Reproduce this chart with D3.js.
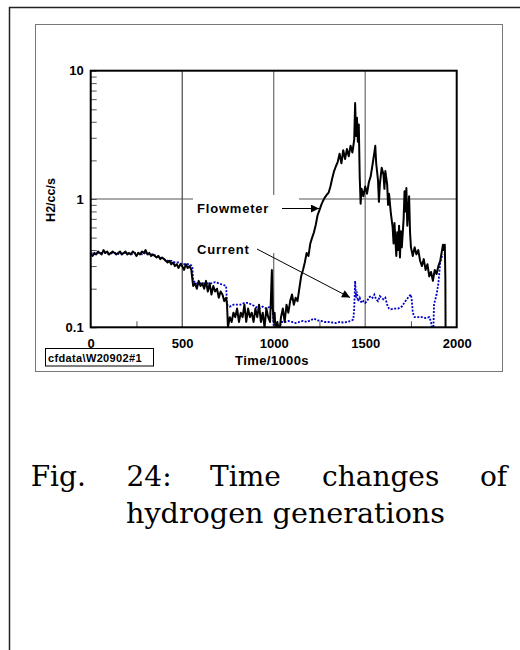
<!DOCTYPE html>
<html>
<head>
<meta charset="utf-8">
<script src="https://cdn.jsdelivr.net/npm/d3@7"></script>
<style>
  body { margin: 0; background: #fff; }
  svg { display: block; }
  .tick text { font-family: "Liberation Sans", Arial, sans-serif; font-weight: bold; }
</style>
</head>
<body>
<div id="chart"></div>
<script>
// x tick labels and y tick labels
const xTicks = [0, 500, 1000, 1500, 2000];
const xMinorTicks = [250, 750, 1250, 1750];
const yTicks = [0.1, 1, 10];
const yMinorTicks = [0.2, 0.3, 0.4, 0.5, 0.6, 0.7, 0.8, 0.9, 2, 3, 4, 5, 6, 7, 8, 9];

// Flowmeter, [time/1000s, H2 cc/s]
const flowmeter = [
  [0, 0.37], [10, 0.36], [20, 0.38], [30, 0.37], [40, 0.39], [50, 0.38], [60, 0.37], [70, 0.40],
  [80, 0.38], [90, 0.39], [100, 0.37], [110, 0.38], [120, 0.39], [130, 0.38], [140, 0.37], [150, 0.38],
  [160, 0.39], [170, 0.37], [180, 0.38], [190, 0.39], [200, 0.37], [210, 0.38], [220, 0.37], [230, 0.39],
  [240, 0.38], [250, 0.36], [260, 0.38], [270, 0.37], [280, 0.39], [290, 0.38], [300, 0.40], [310, 0.37],
  [320, 0.38], [330, 0.36], [340, 0.37], [350, 0.36], [360, 0.35], [370, 0.36], [380, 0.34], [390, 0.35],
  [400, 0.34], [410, 0.33], [420, 0.32], [430, 0.33], [440, 0.31], [450, 0.32], [460, 0.30], [470, 0.31],
  [480, 0.29], [490, 0.31], [500, 0.30], [510, 0.28], [520, 0.31], [530, 0.29], [540, 0.30], [550, 0.28],
  [555, 0.24], [560, 0.21], [570, 0.22], [580, 0.20], [590, 0.23], [600, 0.21], [610, 0.22], [620, 0.20],
  [630, 0.23], [640, 0.19], [650, 0.22], [660, 0.18], [670, 0.21], [680, 0.19], [690, 0.20], [700, 0.17],
  [710, 0.19], [720, 0.18], [730, 0.16], [740, 0.17], [745, 0.15], [750, 0.10], [760, 0.12], [770, 0.11],
  [780, 0.13], [790, 0.12], [800, 0.14], [810, 0.11], [820, 0.13], [830, 0.12], [840, 0.15], [850, 0.11],
  [860, 0.14], [870, 0.12], [880, 0.13], [890, 0.11], [900, 0.14], [910, 0.12], [920, 0.15], [930, 0.11],
  [940, 0.13], [950, 0.10], [960, 0.14], [970, 0.12], [980, 0.11], [985, 0.17], [990, 0.28], [995, 0.14],
  [1000, 0.11], [1005, 0.13], [1010, 0.095], [1020, 0.11], [1030, 0.09], [1040, 0.12], [1050, 0.14],
  [1060, 0.11], [1070, 0.15], [1080, 0.13], [1090, 0.16], [1100, 0.18], [1110, 0.15], [1120, 0.17],
  [1130, 0.16], [1140, 0.20], [1150, 0.25], [1160, 0.28], [1170, 0.32], [1180, 0.38], [1190, 0.36],
  [1200, 0.45], [1210, 0.50], [1220, 0.55], [1230, 0.63], [1240, 0.75], [1250, 0.82], [1260, 0.90],
  [1270, 0.97], [1280, 1.03], [1290, 1.08], [1300, 1.12], [1310, 1.25], [1320, 1.45], [1330, 1.65],
  [1340, 1.80], [1350, 1.95], [1360, 2.25], [1370, 1.90], [1380, 2.40], [1390, 2.05], [1400, 2.45],
  [1410, 2.15], [1420, 2.60], [1430, 2.30], [1440, 2.90], [1445, 5.6], [1450, 3.1], [1455, 4.3],
  [1460, 2.8], [1465, 3.8], [1470, 1.5], [1475, 0.92], [1480, 1.2], [1490, 1.05], [1500, 1.25],
  [1510, 1.10], [1520, 1.35], [1530, 1.50], [1540, 1.85], [1550, 2.30], [1555, 2.60], [1560, 1.90],
  [1570, 1.40], [1575, 0.95], [1580, 1.30], [1590, 1.75], [1600, 1.55], [1605, 1.20], [1610, 1.65],
  [1620, 1.30], [1625, 0.90], [1630, 1.10], [1640, 0.78], [1650, 0.60], [1655, 0.45], [1660, 0.65],
  [1665, 0.48], [1670, 0.36], [1675, 0.55], [1680, 0.40], [1685, 0.62], [1690, 0.35], [1695, 0.56],
  [1700, 0.42], [1710, 0.70], [1715, 1.15], [1720, 0.80], [1725, 1.22], [1730, 0.62], [1740, 1.05],
  [1745, 0.55], [1750, 0.42], [1760, 0.36], [1770, 0.42], [1780, 0.37], [1790, 0.40], [1800, 0.33],
  [1810, 0.30], [1820, 0.34], [1830, 0.28], [1840, 0.31], [1850, 0.25], [1860, 0.27], [1870, 0.23],
  [1880, 0.28], [1890, 0.26], [1900, 0.30], [1910, 0.33], [1920, 0.40], [1925, 0.44], [1930, 0.40],
  [1935, 0.44], [1938, 0.25], [1940, 0.05]
];

// Current, [time/1000s, H2 cc/s]
const current = [
  [0, 0.38], [20, 0.37], [40, 0.38], [60, 0.38], [80, 0.38], [100, 0.37], [120, 0.38], [140, 0.38],
  [160, 0.37], [180, 0.38], [200, 0.38], [220, 0.37], [240, 0.38], [260, 0.38], [280, 0.37], [300, 0.38],
  [320, 0.37], [340, 0.37], [360, 0.36], [380, 0.35], [400, 0.34], [420, 0.33], [440, 0.33], [460, 0.32],
  [480, 0.32], [500, 0.31], [520, 0.31], [540, 0.31], [555, 0.30], [560, 0.23], [580, 0.22], [600, 0.22],
  [620, 0.22], [640, 0.22], [660, 0.22], [680, 0.225], [700, 0.22], [720, 0.215], [740, 0.21], [745, 0.15],
  [760, 0.145], [780, 0.15], [800, 0.15], [820, 0.15], [840, 0.155], [860, 0.155], [880, 0.15], [900, 0.145],
  [920, 0.14], [940, 0.145], [960, 0.14], [980, 0.145], [995, 0.14], [1000, 0.10], [1010, 0.09],
  [1020, 0.105], [1030, 0.09], [1040, 0.11], [1060, 0.11], [1080, 0.112], [1100, 0.11], [1120, 0.108],
  [1140, 0.11], [1160, 0.112], [1180, 0.11], [1200, 0.113], [1220, 0.117], [1240, 0.113], [1260, 0.112],
  [1280, 0.11], [1300, 0.11], [1320, 0.109], [1340, 0.108], [1360, 0.11], [1380, 0.109], [1400, 0.11],
  [1420, 0.112], [1435, 0.115], [1440, 0.14], [1445, 0.23], [1450, 0.17], [1455, 0.19], [1460, 0.16],
  [1470, 0.17], [1480, 0.155], [1490, 0.16], [1500, 0.155], [1510, 0.16], [1520, 0.17], [1530, 0.175],
  [1540, 0.17], [1550, 0.18], [1560, 0.165], [1570, 0.16], [1580, 0.175], [1590, 0.17], [1600, 0.165],
  [1610, 0.17], [1620, 0.15], [1630, 0.14], [1640, 0.138], [1660, 0.14], [1680, 0.14], [1700, 0.145],
  [1720, 0.16], [1740, 0.175], [1750, 0.18], [1755, 0.16], [1760, 0.13], [1770, 0.12], [1790, 0.12],
  [1810, 0.12], [1830, 0.118], [1850, 0.12], [1860, 0.11], [1865, 0.095], [1872, 0.09], [1876, 0.15],
  [1890, 0.18], [1900, 0.22], [1910, 0.32], [1920, 0.36], [1925, 0.37]
];

const W = 520, H = 650;
const svg = d3.select("#chart").append("svg").attr("width", W).attr("height", H);

// page frame
svg.append("path").attr("d", "M9.5,650 V7.5 H520")
  .attr("fill", "none").attr("stroke", "#222").attr("stroke-width", 1.5);

// chart box
svg.append("rect").attr("x", 35.5).attr("y", 24.5).attr("width", 467).attr("height", 347)
  .attr("fill", "none").attr("stroke", "#777").attr("stroke-width", 1);

const x = d3.scaleLinear().domain([0, 2000]).range([90.7, 456.7]);
const y = d3.scaleLog().domain([0.1, 10]).range([327.3, 70.7]);

svg.append("defs").append("clipPath").attr("id", "plot")
  .append("rect").attr("x", x(0)).attr("y", y(10)).attr("width", x(2000) - x(0)).attr("height", y(0.1) - y(10));

// grid
const grid = svg.append("g");
grid.append("line").attr("x1", x(500)).attr("x2", x(500)).attr("y1", y(10)).attr("y2", y(0.1))
  .attr("stroke", "#222").attr("stroke-width", 1);
[1000, 1500].forEach(v => grid.append("line").attr("x1", x(v)).attr("x2", x(v))
  .attr("y1", y(10)).attr("y2", y(0.1)).attr("stroke", "#777").attr("stroke-width", 1.3));
grid.append("line").attr("x1", x(0)).attr("x2", x(2000)).attr("y1", y(1)).attr("y2", y(1))
  .attr("stroke", "#555").attr("stroke-width", 1.2);

// white box behind the labels
svg.append("rect").attr("x", 193).attr("y", 195).attr("width", 106).attr("height", 58).attr("fill", "#fff");

// minor ticks, inside
svg.append("g").attr("transform", `translate(${x(0)},0)`)
  .call(d3.axisLeft(y).tickValues(yMinorTicks.concat(yTicks)).tickSize(-6).tickFormat(""))
  .call(g => g.select(".domain").remove())
  .call(g => g.selectAll(".tick line").attr("stroke", "#555"));
svg.append("g").attr("transform", `translate(0,${y(0.1)})`)
  .call(d3.axisBottom(x).tickValues(xMinorTicks).tickSize(-6).tickFormat(""))
  .call(g => g.select(".domain").remove())
  .call(g => g.selectAll(".tick line").attr("stroke", "#555"));

// tick labels
svg.append("g").attr("transform", `translate(${x(0) - 7},0)`)
  .call(d3.axisLeft(y).tickValues(yTicks).tickSize(0).tickPadding(0)
    .tickFormat(d => d === 0.1 ? "0.1" : d3.format("d")(d)))
  .call(g => g.select(".domain").remove())
  .call(g => g.selectAll(".tick text").attr("font-size", 13).attr("fill", "#000"));
svg.append("g").attr("transform", `translate(0,${y(0.1) + 7})`)
  .call(d3.axisBottom(x).tickValues(xTicks).tickSize(0).tickPadding(4).tickFormat(d3.format("d")))
  .call(g => g.select(".domain").remove())
  .call(g => g.selectAll(".tick text").attr("font-size", 13).attr("fill", "#000"));

// axis titles
const sans = "'Liberation Sans', Arial, sans-serif";
svg.append("text").attr("transform", "translate(55,200) rotate(-90)").attr("text-anchor", "middle")
  .attr("font-family", sans).attr("font-weight", "bold").attr("font-size", 12.5).text("H2/cc/s");
svg.append("text").attr("x", 272).attr("y", 365).attr("text-anchor", "middle")
  .attr("font-family", sans).attr("font-weight", "bold").attr("font-size", 13).attr("letter-spacing", 0.4)
  .text("Time/1000s");

// series
const line = d3.line().x(d => x(d[0])).y(d => y(Math.max(d[1], 0.05)));
const plot = svg.append("g").attr("clip-path", "url(#plot)");
plot.append("path").datum(current).attr("d", line)
  .attr("fill", "none").attr("stroke", "#0000cc").attr("stroke-width", 1.8).attr("stroke-dasharray", "2,1.5");
plot.append("path").datum(flowmeter).attr("d", line)
  .attr("fill", "none").attr("stroke", "#000").attr("stroke-width", 2).attr("stroke-linejoin", "round");

// plot frame
svg.append("rect").attr("x", x(0)).attr("y", y(10)).attr("width", x(2000) - x(0)).attr("height", y(0.1) - y(10))
  .attr("fill", "none").attr("stroke", "#000").attr("stroke-width", 2);

// data file tag
svg.append("rect").attr("x", 45.5).attr("y", 348.5).attr("width", 108).attr("height", 17.5)
  .attr("fill", "#fff").attr("stroke", "#000").attr("stroke-width", 1);
svg.append("text").attr("x", 48).attr("y", 362).attr("font-family", sans).attr("font-weight", "bold")
  .attr("font-size", 11).attr("letter-spacing", 0.35).text("cfdata\\W20902#1");

// annotations
svg.append("defs").append("marker").attr("id", "arrow").attr("viewBox", "0 0 10 10")
  .attr("refX", 10).attr("refY", 5).attr("markerWidth", 10).attr("markerHeight", 8)
  .attr("markerUnits", "userSpaceOnUse").attr("orient", "auto")
  .append("path").attr("d", "M0,0 L10,5 L0,10 Z").attr("fill", "#000");
svg.append("text").attr("x", 197).attr("y", 213).attr("font-family", sans).attr("font-weight", "bold")
  .attr("font-size", 13).attr("letter-spacing", 0.8).text("Flowmeter");
svg.append("line").attr("x1", 282).attr("y1", 208.5).attr("x2", 319).attr("y2", 208.5)
  .attr("stroke", "#000").attr("stroke-width", 1).attr("marker-end", "url(#arrow)");
svg.append("text").attr("x", 197).attr("y", 254).attr("font-family", sans).attr("font-weight", "bold")
  .attr("font-size", 13).attr("letter-spacing", 0.8).text("Current");
svg.append("line").attr("x1", 257).attr("y1", 249).attr("x2", 350).attr("y2", 297.5)
  .attr("stroke", "#000").attr("stroke-width", 1).attr("marker-end", "url(#arrow)");

// caption
const serif = "'DejaVu Serif', 'Liberation Serif', serif";
const cap = svg.append("g").attr("font-family", serif).attr("font-size", 28).attr("fill", "#000");
[["Fig.", 30.7], ["24:", 126.5], ["Time", 210], ["changes", 322], ["of", 480]].forEach(([w, px]) =>
  cap.append("text").attr("x", px).attr("y", 486).text(w));
cap.append("text").attr("x", 126).attr("y", 523).attr("textLength", 319).attr("lengthAdjust", "spacingAndGlyphs")
  .text("hydrogen generations");
</script>
</body>
</html>
